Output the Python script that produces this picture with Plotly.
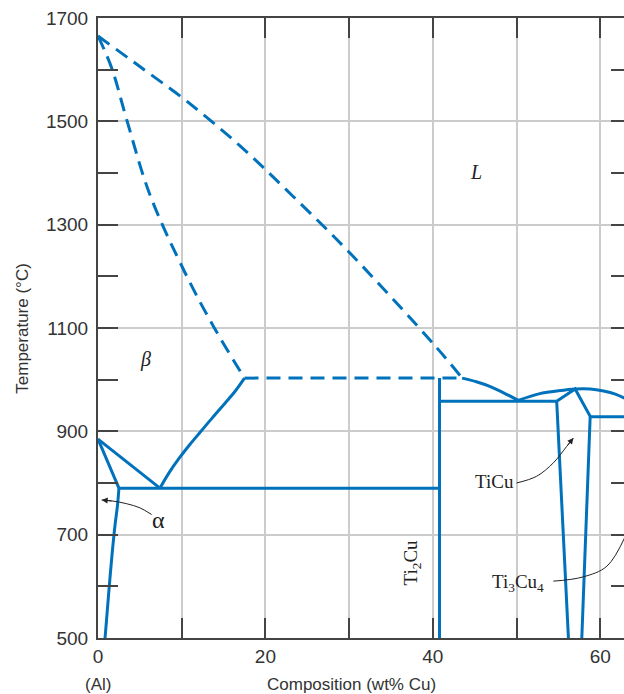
import plotly.graph_objects as go

# ---- data (wt% Cu, °C) ----
liquidus_dashed_x = [0, 5.0, 10.6, 17.0, 23.1, 30.1, 40.3, 43.5]
liquidus_dashed_t = [1665, 1606, 1539, 1452, 1358, 1245, 1065, 1003]

solidus_dashed_x = [0, 1.64, 3.43, 6.2, 10.4, 13.8, 17.5]
solidus_dashed_t = [1665, 1603, 1503, 1358, 1207, 1103, 1003]

peritectic_hi_x = [17.5, 43.5]
peritectic_hi_t = [1003, 1003]

liquidus_solid_x = [43.5, 45.2, 46.8, 48.4, 50.2, 52.8, 54.8, 57.0, 58.8, 60.4, 61.8, 62.9]
liquidus_solid_t = [1003, 996, 987, 975, 960, 973, 978, 982, 982, 978, 972, 964]

beta_transus_x = [0, 7.4]
beta_transus_t = [885, 790]

alpha_beta_x = [0, 2.5]
alpha_beta_t = [885, 790]

alpha_solvus_x = [2.5, 2.33, 2.03, 1.67, 1.31, 1.02, 0.84]
alpha_solvus_t = [790, 757, 718, 660, 593, 535, 500]

beta_ti2cu_x = [7.4, 8.5, 9.7, 11.0, 12.3, 13.7, 15.2, 16.4, 17.5]
beta_ti2cu_t = [790, 820, 848, 875, 900, 927, 955, 978, 1003]

eutectoid_x = [2.5, 40.8]
eutectoid_t = [790, 790]

ti2cu_x = [40.8, 40.8]
ti2cu_t = [1003, 500]

peritectic_lo_x = [40.8, 54.8]
peritectic_lo_t = [958, 958]

ticu_x = [56.2, 54.8, 57.0, 58.8, 57.8]
ticu_t = [500, 958, 982, 929, 500]

ti3cu4_line_x = [58.8, 63.0]
ti3cu4_line_t = [928, 928]

# leader curves for labels
alpha_leader_x = [6.4, 5.0, 3.4, 1.8, 0.44]
alpha_leader_t = [739, 752, 760, 765, 767]
ticu_leader_x = [50.0, 52.4, 54.4, 56.0, 56.8]
ticu_leader_t = [800, 813, 839, 871, 887]
ti3cu4_leader_x = [54.4, 57.9, 60.8, 63.0]
ti3cu4_leader_t = [610, 618, 639, 697]

x_range = [0, 62.84]
y_range = [500, 1700]

BLUE = "#0072BC"
LW = 3
DASH = "14px,8px"

fig = go.Figure()

def line(x, y, dash="solid", color=BLUE, width=LW, shape="linear"):
    fig.add_trace(go.Scatter(x=x, y=y, mode="lines",
                             line=dict(color=color, width=width, dash=dash, shape=shape),
                             hoverinfo="skip", showlegend=False))

line(liquidus_dashed_x, liquidus_dashed_t, DASH, shape="spline")
line(solidus_dashed_x, solidus_dashed_t, DASH, shape="spline")
line(peritectic_hi_x, peritectic_hi_t, DASH)
line(liquidus_solid_x[:5], liquidus_solid_t[:5], shape="spline")
line(liquidus_solid_x[4:], liquidus_solid_t[4:], shape="spline")
line(beta_transus_x, beta_transus_t)
line(alpha_beta_x, alpha_beta_t)
line(alpha_solvus_x, alpha_solvus_t, shape="spline")
line(beta_ti2cu_x, beta_ti2cu_t, shape="spline")
line(eutectoid_x, eutectoid_t)
line(ti2cu_x, ti2cu_t)
line(peritectic_lo_x, peritectic_lo_t)
line(ticu_x, ticu_t)
line(ti3cu4_line_x, ti3cu4_line_t)

line(alpha_leader_x, alpha_leader_t, color="#222", width=1, shape="spline")
line(ticu_leader_x, ticu_leader_t, color="#222", width=1, shape="spline")
line(ti3cu4_leader_x, ti3cu4_leader_t, color="#222", width=1, shape="spline")

# invisible trace to activate the right-hand tick axis
fig.add_trace(go.Scatter(x=[None], y=[None], yaxis="y2", showlegend=False, hoverinfo="skip"))

SERIF = "Liberation Serif"
SANS = "Liberation Sans"

annotations = [
    dict(x=45.2, y=1401, text="<i>L</i>", showarrow=False, font=dict(family=SERIF, size=20, color="#222")),
    dict(x=5.7, y=1039, text="<i>β</i>", showarrow=False, font=dict(family=SERIF, size=20, color="#222")),
    dict(x=7.2, y=729, text="α", showarrow=False, font=dict(family=SERIF, size=24, color="#222")),
    dict(x=47.4, y=803, text="TiCu", showarrow=False, font=dict(family=SERIF, size=19, color="#222")),
    dict(x=50.2, y=607, text="Ti<sub>3</sub>Cu<sub>4</sub>", showarrow=False,
         font=dict(family=SERIF, size=19, color="#222")),
    dict(x=37.5, y=646, text="Ti<sub>2</sub>Cu", showarrow=False, textangle=-90,
         font=dict(family=SERIF, size=19, color="#222")),
    # arrow heads
    dict(x=alpha_leader_x[-1], y=alpha_leader_t[-1], ax=alpha_leader_x[-2], ay=alpha_leader_t[-2],
         axref="x", ayref="y", text="", showarrow=True, arrowhead=2, arrowsize=1.2, arrowwidth=1,
         arrowcolor="#222", standoff=0),
    dict(x=ticu_leader_x[-1], y=ticu_leader_t[-1], ax=ticu_leader_x[-2], ay=ticu_leader_t[-2],
         axref="x", ayref="y", text="", showarrow=True, arrowhead=2, arrowsize=1.2, arrowwidth=1,
         arrowcolor="#222", standoff=0),
    # axis titles
    dict(x=30.3, y=-0.075, xref="x", yref="paper", xanchor="center", yanchor="middle",
         text="Composition (wt% Cu)", showarrow=False, font=dict(family=SANS, size=17, color="#333")),
    dict(x=0, y=-0.075, xref="x", yref="paper", xanchor="center", yanchor="middle",
         text="(Al)", showarrow=False, font=dict(family=SANS, size=17, color="#333")),
    dict(x=-0.145, y=0.5, xref="paper", yref="paper", xanchor="center", yanchor="middle",
         text="Temperature (°C)", showarrow=False, textangle=-90,
         font=dict(family=SANS, size=17, color="#333")),
]

fig.update_layout(
    width=624, height=694,
    margin=dict(l=98, r=0, t=18, b=56, autoexpand=False),
    paper_bgcolor="white", plot_bgcolor="white",
    showlegend=False,
    annotations=annotations,
    xaxis=dict(range=x_range, tick0=0, dtick=20, ticks="inside", ticklen=20, tickwidth=1.5,
               tickcolor="#444", showline=True, linecolor="#444", linewidth=2, mirror="ticks",
               showgrid=True, gridcolor="#cccccc", gridwidth=1.5, zeroline=False, automargin=False,
               tickfont=dict(family=SANS, size=19, color="#333"), ticklabelstandoff=0,
               minor=dict(dtick=10, ticks="inside", ticklen=20, tickwidth=1.5, tickcolor="#444",
                          showgrid=True, gridcolor="#cccccc", gridwidth=1.5)),
    yaxis=dict(range=y_range, tick0=500, dtick=200, ticks="inside", ticklen=20, tickwidth=1.5,
               tickcolor="#444", showline=True, linecolor="#444", linewidth=2, mirror=False,
               showgrid=True, gridcolor="#cccccc", gridwidth=1.5, zeroline=False, automargin=False,
               tickfont=dict(family=SANS, size=19, color="#333"), ticklabelstandoff=4,
               minor=dict(dtick=100, ticks="inside", ticklen=20, tickwidth=1.5, tickcolor="#444",
                          showgrid=False)),
    yaxis2=dict(range=y_range, overlaying="y", side="right", tick0=500, dtick=100,
                ticks="inside", ticklen=13, tickwidth=1.5, tickcolor="#444", automargin=False,
                showline=False, showgrid=False, zeroline=False, showticklabels=False),
)

fig.write_html("out.html", config={"displayModeBar": False},
               post_script="document.body.style.margin='0';document.body.style.overflow='hidden';")
